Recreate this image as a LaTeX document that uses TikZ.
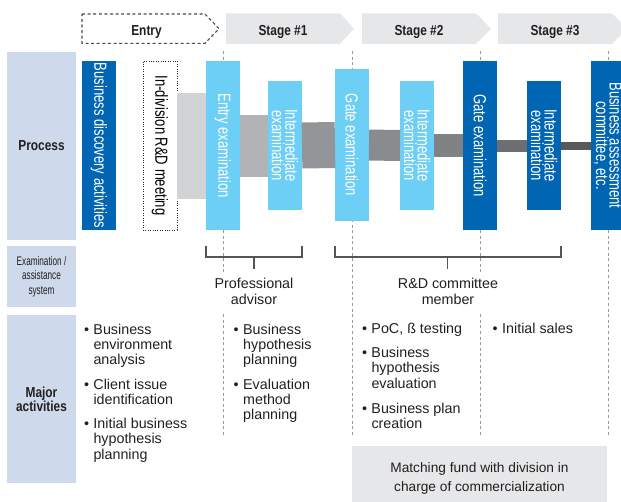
\documentclass[tikz,border=0pt]{standalone}
\usepackage{fontspec}
\setmainfont{Liberation Sans}
\newfontfamily\boxfont[FakeStretch=0.745]{Liberation Sans}
\newfontfamily\headfont[FakeStretch=0.82]{Liberation Sans}
\newfontfamily\smallcond[FakeStretch=0.66]{Liberation Sans}
\usetikzlibrary{backgrounds}

\definecolor{darkblue}{HTML}{0066B3}
\definecolor{lightblue}{HTML}{6DCFF6}
\definecolor{labelbg}{HTML}{CED9EC}
\definecolor{stagegray}{HTML}{E6E7E8}
\definecolor{bracketgray}{HTML}{555555}
\definecolor{guidegray}{HTML}{9A9A9A}
\definecolor{entrydash}{HTML}{4A4A4A}
\definecolor{barA}{HTML}{D1D3D4}
\definecolor{barB}{HTML}{B1B3B6}
\definecolor{barC}{HTML}{939598}
\definecolor{barD}{HTML}{8A8B8E}
\definecolor{barE}{HTML}{808285}
\definecolor{barF}{HTML}{6D6E71}
\definecolor{barG}{HTML}{58595B}
\definecolor{textgray}{HTML}{231F20}

% vertical text, read top to bottom, lines stacked right to left
\newcommand\vlabel[1]{\rotatebox{-90}{\vbox{\halign{\hfil##\hfil\cr#1\crcr}}}}
% bullet item with hanging lines
\newcommand\bul[1]{\makebox[9.5pt][l]{\textbullet}\begin{tabular}[t]{@{}l@{}}#1\end{tabular}}
% centred lines, baseline on the first one
\newcommand\stack[1]{\begin{tabular}[t]{@{}c@{}}#1\end{tabular}}

\tikzset{
  procbox/.style={minimum width=34pt, inner sep=0pt, outer sep=0pt,
    font=\boxfont\fontsize{17.5}{13.5}\selectfont},
  darkbox/.style={procbox, fill=darkblue, text=white},
  lightbox/.style={procbox, fill=lightblue, text=white},
  meetbox/.style={procbox, fill=white, draw=black!85, line width=0.9pt,
    dash pattern=on 1pt off 1.4pt, text=black},
  linkbar/.style={line width=#1, line cap=butt},
  guide/.style={draw=guidegray, line width=0.9pt, dash pattern=on 3pt off 2.6pt},
  bracket/.style={draw=bracketgray, line width=1.1pt},
  stagehead/.style={anchor=base, inner sep=0pt, text=textgray,
    font=\headfont\bfseries\fontsize{14.5}{15}\selectfont},
  sidebox/.style={fill=labelbg, minimum width=69pt, inner sep=0pt, align=center,
    text=textgray},
  sidehead/.style={sidebox, font=\headfont\bfseries\fontsize{14.5}{14}\selectfont},
  sidesmall/.style={sidebox, font=\smallcond\fontsize{12.4}{14.5}\selectfont},
  item/.style={anchor=base west, inner sep=0pt, text=textgray,
    font=\fontsize{14.3}{15.4}\selectfont},
  role/.style={anchor=base, fill=white, inner sep=4pt, text=textgray,
    font=\fontsize{14.3}{15.6}\selectfont},
}

\begin{document}
\begin{tikzpicture}[x=1pt, y=-1pt]
\useasboundingbox (0,0) rectangle (621,501);
\begin{scope}
\clip (0,0) rectangle (621,501);

% stage headers
\draw[entrydash, line width=1.1pt, dash pattern=on 3pt off 2.6pt, fill=white]
  (82,14) -- (205,14) -- (219,28.7) -- (205,43.3) -- (82,43.3) -- cycle;
\fill[stagegray] (226,13.3) -- (340,13.3) -- (354,28.7) -- (340,44) -- (226,44) -- cycle;
\fill[stagegray] (362,13.3) -- (476,13.3) -- (491,28.7) -- (476,44) -- (362,44) -- cycle;
\fill[stagegray] (498,13.3) -- (612,13.3) -- (627,28.7) -- (612,44) -- (498,44) -- cycle;
\node[stagehead] (hEntry) at (146.5,35) {Entry};
\node[stagehead] (hS1) at (283,35) {Stage \#1};
\node[stagehead] (hS2) at (419,35) {Stage \#2};
\node[stagehead] (hS3) at (555,35) {Stage \#3};

% row headings
\node[sidehead, minimum height=188pt] (lProcess) at (41.5,145.5) {Process};
\node[sidesmall, minimum height=61pt] (lExam) at (41.5,276.5) {Examination /\\assistance\\system};
\node[sidehead, minimum height=168pt] (lMajor) at (41.5,399) {Major\\activities};

% process steps
\node[darkbox,  minimum height=169pt] (bda)   at (99,145.5)  {\vlabel{Business discovery activities}};
\node[meetbox,  minimum height=169pt] (rdm)   at (160,145.5) {\vlabel{In-division R\&D meeting}};
\node[lightbox, minimum height=169pt] (ent)   at (223,145.5) {\vlabel{Entry examination}};
\node[lightbox, minimum height=129pt] (int1)  at (285,145.5) {\vlabel{Intermediate\cr examination}};
\node[lightbox, minimum height=152pt] (gate1) at (352,145)   {\vlabel{Gate examination}};
\node[lightbox, minimum height=129pt] (int2)  at (417,145.5) {\vlabel{Intermediate\cr examination}};
\node[darkbox,  minimum height=169pt] (gate2) at (480,145.5) {\vlabel{Gate examination}};
\node[darkbox,  minimum height=129pt] (int3)  at (544,145.5) {\vlabel{Intermediate\cr examination}};
\node[darkbox,  minimum height=169pt] (bac)   at (608,145.5) {\vlabel{Business assessment\cr committee, etc.}};

% narrowing links between the steps
\draw[linkbar=106pt, draw=barA] (rdm.east)   -- (ent.west);
\draw[linkbar=62pt,  draw=barB] (ent.east)   -- (int1.west);
\draw[linkbar=46pt,  draw=barC] (int1.east)  -- (gate1.west);
\draw[linkbar=31pt,  draw=barD] (gate1.east) -- (int2.west);
\draw[linkbar=23pt,  draw=barE] (int2.east)  -- (gate2.west);
\draw[linkbar=12pt,  draw=barF] (gate2.east) -- (int3.west);
\draw[linkbar=8pt,   draw=barG] (int3.east)  -- (bac.west);

% stage boundaries
\begin{scope}[on background layer]
  \foreach \n in {ent, gate1, gate2, bac}
    \draw[guide] (\n.center |- 0,51) -- (\n.center |- 0,435);
\end{scope}

% examination / assistance brackets
\coordinate (advTick) at (254,257);
\coordinate (rdTick) at (447.5,257);
\draw[bracket] (ent.west |- 0,246) -- (ent.west |- 0,257) -- (int1.east |- 0,257) -- (int1.east |- 0,246);
\draw[bracket] (advTick) -- (254,269);
\draw[bracket] (gate1.west |- 0,246) -- (gate1.west |- 0,257) -- (int3.east |- 0,257) -- (int3.east |- 0,246);
\draw[bracket] (rdTick) -- (447.5,269);
\node[role] (adv) at (254,288.5) {\stack{Professional\\advisor}};
\node[role] (rdc) at (448,288.5) {\stack{R\&D committee\\member}};

% major activities
\node[item] (a1) at (83.8,334)   {\bul{Business\\environment\\analysis}};
\node[item] (a2) at (83.8,389)   {\bul{Client issue\\identification}};
\node[item] (a3) at (83.8,428.5) {\bul{Initial business\\hypothesis\\planning}};
\node[item] (b1) at (233.5,334)  {\bul{Business\\hypothesis\\planning}};
\node[item] (b2) at (233.5,389)  {\bul{Evaluation\\method\\planning}};
\node[item] (c1) at (361.8,333.5) {\bul{PoC, ß testing}};
\node[item] (c2) at (361.8,357.5) {\bul{Business\\hypothesis\\evaluation}};
\node[item] (c3) at (361.8,413.5) {\bul{Business plan\\creation}};
\node[item] (d1) at (492.5,333.5) {\bul{Initial sales}};

% funding note
\node[fill=stagegray, minimum width=255pt, minimum height=65pt, inner sep=0pt,
  align=center, text=textgray, font=\fontsize{13.7}{19}\selectfont]
  (fund) at (479.5,478.5) {Matching fund with division in\\charge of commercialization};
\end{scope}
\end{tikzpicture}
\end{document}
